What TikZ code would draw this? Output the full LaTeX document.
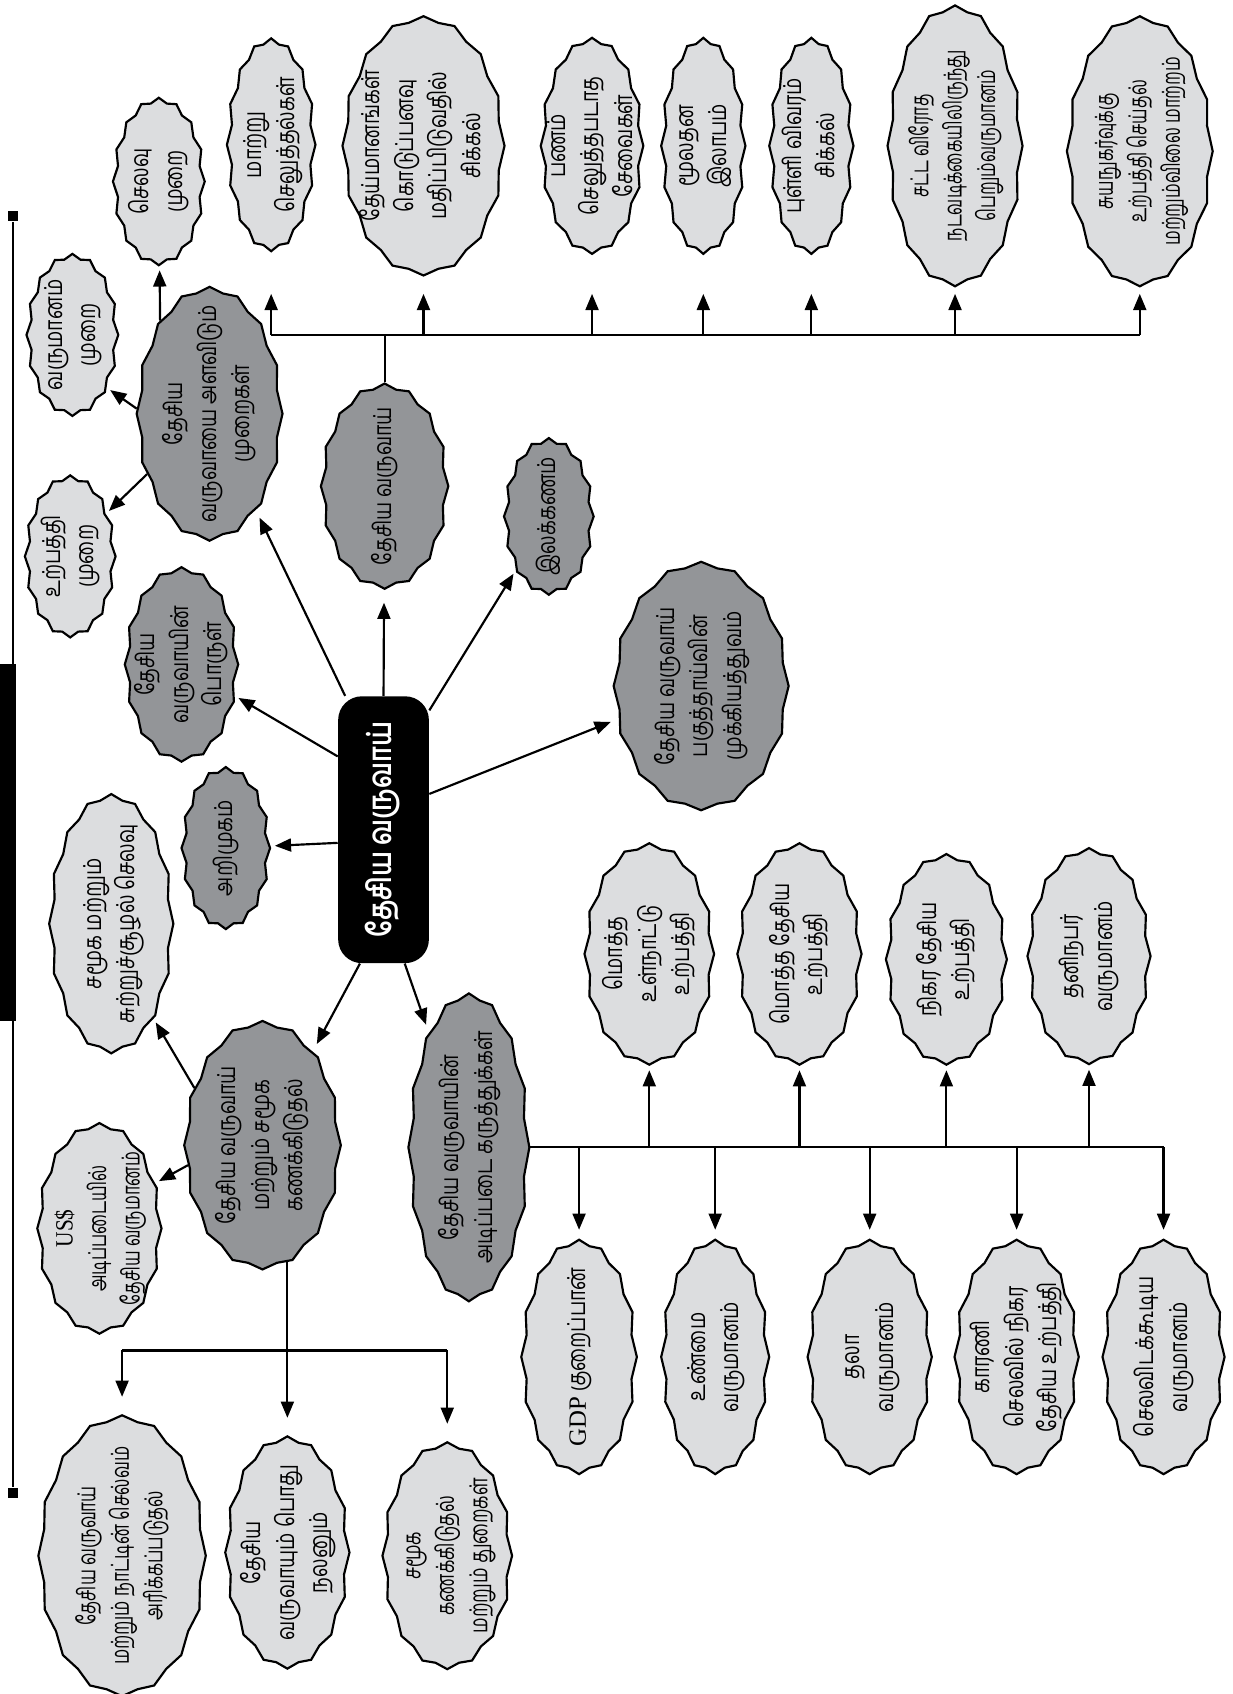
\documentclass[tikz,border=0pt]{standalone}
\usepackage{fontspec}
\usepackage{graphicx}
\usetikzlibrary{positioning}
\usetikzlibrary{shapes.symbols}
\usetikzlibrary{arrows.meta}
\newfontfamily\tamilfont[Script=Tamil, FakeStretch=0.78]{Hind Madurai}
\newfontfamily\latinfont{Liberation Serif}
\definecolor{lightgrey}{RGB}{220,221,223}
\definecolor{darkgrey}{RGB}{147,149,152}
% text turned to read upwards, with no size of its own
\newcommand{\vtext}[2][1]{\makebox[0pt][c]{\raisebox{-0.5\height}[0pt][0pt]{%
    \rotatebox{90}{\scalebox{#1}[1]{\begin{tabular}{@{}c@{}}#2\end{tabular}}}}}}
\tikzset{
    common/.style={starburst, starburst points=16, starburst point height=2pt, random starburst=0,
        draw=black, line width=1pt, inner sep=0pt,
        font=\tamilfont\fontsize{11.5}{15.5}\selectfont},
    lite/.style={common, fill=lightgrey},
    dark/.style={common, fill=darkgrey},
    hubbox/.style={rectangle, rounded corners=11pt, fill=black, text=white, inner sep=0pt,
        font=\tamilfont\bfseries\fontsize{15}{17}\selectfont},
    dims/.code 2 args={%
        \pgfmathsetlengthmacro\dimw{#1*0.5pt}%
        \pgfmathsetlengthmacro\dimh{#2*0.5pt}%
        \edef\dimset{\noexpand\pgfkeysalso{minimum width=\dimw, minimum height=\dimh}}\dimset},
    link/.style={line width=1pt},
    arr/.style={link, -{Triangle[length=7.5pt, width=6pt]}, shorten >=2pt},
    endsq/.style={rectangle, fill=black, minimum size=5pt, inner sep=0pt},
}
\begin{document}
\begin{tikzpicture}[x=0.5pt, y=-0.5pt]
    \useasboundingbox (0,0) rectangle (1141,1568);

    % left margin bar
    \node[endsq] (bartop) at (12,200) {};
    \node[endsq] (barbot) at (12,1382) {};
    \draw[link] (bartop) -- (barbot);
    \node[rectangle, fill=black, dims={15}{330}, inner sep=0pt] (tab) at (7,780) {};

    % centre
    \node[hubbox, dims={84}{247}] (hub) at (355,768) {\vtext{தேசிய வருவாய்}};

    % first ring
    \node[dark, dims={135}{235}] (measure) at (194,383) {\vtext{தேசிய\\வருவாயை அளவிடும்\\முறைகள்}};
    \node[dark, dims={118}{190}] (nat) at (356,450) {\vtext{தேசிய வருவாய்}};
    \node[dark, dims={83}{145}] (ilak) at (508,478) {\vtext{இலக்கணம்}};
    \node[dark, dims={105}{180}] (meaning) at (168,615) {\vtext{தேசிய\\வருவாயின்\\பொருள்}};
    \node[dark, dims={82}{150}] (intro) at (209,785) {\vtext{அறிமுகம்}};
    \node[dark, dims={162}{230}] (importance) at (649,635) {\vtext{தேசிய வருவாய்\\பகுத்தாய்வின்\\முக்கியத்துவம்}};
    \node[dark, dims={145}{230}] (sacc) at (243,1060) {\vtext{தேசிய வருவாய்\\மற்றும் சமூக\\கணக்கிடுதல்}};
    \node[dark, dims={112}{285}] (basic) at (434,1062) {\vtext{தேசிய வருவாயின்\\அடிப்படை கருத்துக்கள்}};

    % methods
    \node[lite, dims={85}{155}] (expend) at (147,168) {\vtext{செலவு\\முறை}};
    \node[lite, dims={85}{150}] (incm) at (67,310) {\vtext{வருமானம்\\முறை}};
    \node[lite, dims={84}{150}] (prodm) at (65,515) {\vtext{உற்பத்தி\\முறை}};

    % difficulties
    \node[lite, dims={82}{197}] (t2) at (251,134) {\vtext{மாற்று\\செலுத்தல்கள்}};
    \node[lite, dims={150}{240}] (t3) at (392,135) {\vtext{தேய்மானங்கள்\\கொடுப்பனவு\\மதிப்பிடுவதில்\\சிக்கல்}};
    \node[lite, dims={95}{200}] (t4) at (548,135) {\vtext{பணம்\\செலுத்தபடாத\\சேவைகள்}};
    \node[lite, dims={78}{200}] (t5) at (651,135) {\vtext{மூலதன\\இலாபம்}};
    \node[lite, dims={78}{200}] (t6) at (751,135) {\vtext{புள்ளி விவரம்\\சிக்கல்}};
    \node[lite, dims={125}{260}] (t7) at (884,135) {\vtext[0.84]{சட்ட விரோத\\நடவடிக்கையிலிருந்து\\பெறும்வருமானம்}};
    \node[lite, dims={135}{250}] (t8) at (1055,140) {\vtext[0.85]{சுயநுகர்வுக்கு\\உற்பத்தி செய்தல்\\மற்றும்விலை மாற்றம்}};

    % social accounting
    \node[lite, dims={115}{240}] (social) at (103,855) {\vtext{சமூக மற்றும்\\சுற்றுச்சூழல் செலவு}};
    \node[lite, dims={115}{195}] (usd) at (92,1137) {\vtext[0.86]{{\latinfont US\$}\\அடிப்படையில்\\தேசிய வருமானம்}};
    \node[lite, dims={155}{260}] (wealth) at (113,1440) {\vtext[0.88]{தேசிய வருவாய்\\மற்றும் நாட்டின் செல்வம்\\அரிக்கப்படுதல்}};
    \node[lite, dims={115}{215}] (welfare) at (266,1437) {\vtext{தேசிய\\வருவாயும் பொது\\நலனும்}};
    \node[lite, dims={120}{210}] (sectors) at (414,1440) {\vtext[0.9]{சமூக\\கணக்கிடுதல்\\மற்றும் துறைகள்}};

    % basic concepts
    \node[lite, dims={120}{205}] (gdp) at (601,883) {\vtext{மொத்த\\உள்நாட்டு\\உற்பத்தி}};
    \node[lite, dims={115}{205}] (gnp) at (740,883) {\vtext{மொத்த தேசிய\\உற்பத்தி}};
    \node[lite, dims={112}{195}] (nnp) at (876,888) {\vtext{நிகர தேசிய\\உற்பத்தி}};
    \node[lite, dims={114}{200}] (pci) at (1008,885) {\vtext{தனிநபர்\\வருமானம்}};
    \node[lite, dims={107}{217}] (defl) at (536,1256) {\vtext{{\latinfont GDP} குறைப்பான்}};
    \node[lite, dims={100}{217}] (real) at (662,1256) {\vtext{உண்மை\\வருமானம்}};
    \node[lite, dims={115}{217}] (percap) at (805,1256) {\vtext{தலா\\வருமானம்}};
    \node[lite, dims={115}{217}] (nnpfc) at (941,1256) {\vtext{காரணி\\செலவில் நிகர\\தேசிய உற்பத்தி}};
    \node[lite, dims={113}{217}] (disp) at (1077,1256) {\vtext{செலவிடக்கூடிய\\வருமானம்}};

    % from the centre
    \draw[arr, shorten >=6pt] (hub.north) -- (nat);
    \draw[arr] (hub.69) -- (ilak);
    \draw[arr, shorten >=4pt] (hub.38) -- (importance);
    \draw[arr, shorten >=4pt] (hub.106) -- (measure);
    \draw[arr] (hub.122) -- (meaning);
    \draw[arr] (hub.196) -- (intro);
    \draw[arr, shorten >=4pt] (hub.260) -- (sacc);
    \draw[arr, shorten >=4pt] (hub.279) -- (basic);

    % methods
    \draw[arr] (measure.118) -- (expend);
    \draw[arr] (measure.176) -- (incm.-57);
    \draw[arr] (measure.224) -- (prodm.50);

    % difficulties
    \coordinate (tbus) at (0,310);
    \coordinate (ttip) at (0,272);
    \draw[link] (nat.north) -- (nat.north |- tbus);
    \draw[link] (tbus -| t2) -- (tbus -| t8);
    \foreach \n in {t2,t3,t4,t5,t6,t7,t8}
        \draw[arr, shorten >=0pt] (tbus -| \n) -- (ttip -| \n);

    % social accounting
    \draw[arr] (sacc.140) -- (social.-66);
    \draw[arr] (sacc.195) -- (usd.39);
    \coordinate (sbus) at (0,1250);
    \draw[link] (sacc.-78) -- (sacc.-78 |- sbus);
    \draw[link] (sbus -| wealth) -- (sbus -| sectors);
    \foreach \n in {wealth,welfare,sectors}
        \draw[arr, shorten >=8pt] (sbus -| \n) -- (\n.north);

    % basic concepts
    \draw[link] (basic.0) -- (basic.0 -| disp);
    \foreach \n in {gdp,gnp,nnp,pci}
        \draw[arr] (basic.0 -| \n) -- (\n.south);
    \foreach \n in {defl,real,percap,nnpfc,disp}
        \draw[arr, shorten >=4pt] (basic.0 -| \n) -- (\n.north);
\end{tikzpicture}
\end{document}
